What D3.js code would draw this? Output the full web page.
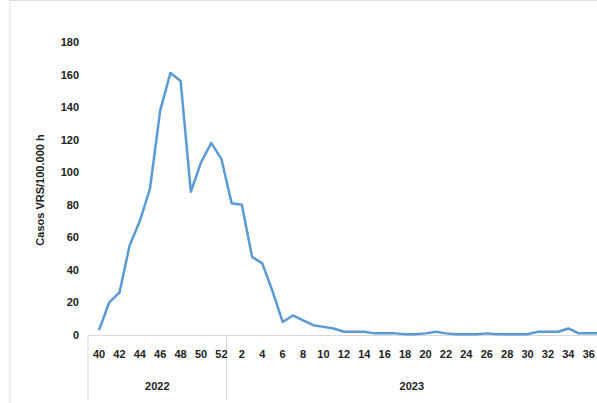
<!DOCTYPE html>
<html><head><meta charset="utf-8">
<script src="https://cdn.jsdelivr.net/npm/d3@7"></script>
<style>body{margin:0;background:#fff}text{font-family:"Liberation Sans",Arial,sans-serif;fill:#222}</style>
</head><body><svg id="c" width="597" height="403"></svg>
<script>
const weeks = [40,41,42,43,44,45,46,47,48,49,50,51,52,1,2,3,4,5,6,7,8,9,10,11,12,13,14,15,16,17,18,19,20,21,22,23,24,25,26,27,28,29,30,31,32,33,34,35,36,37];
const years = [2022,2022,2022,2022,2022,2022,2022,2022,2022,2022,2022,2022,2022,2023,2023,2023,2023,2023,2023,2023,2023,2023,2023,2023,2023,2023,2023,2023,2023,2023,2023,2023,2023,2023,2023,2023,2023,2023,2023,2023,2023,2023,2023,2023,2023,2023,2023,2023,2023,2023];
const cases = [3,20,26,55,70,90,138,161,156,88,106,118,108,81,80,48,44,27,8,12,9,6,5,4,2,2,2,1,1,1,0.5,0.5,1,2,1,0.5,0.5,0.5,1,0.5,0.5,0.5,0.5,2,2,2,4,1,1,1];
const yTicks = [0,20,40,60,80,100,120,140,160,180];

const svg = d3.select("#c");
svg.append("line").attr("x1",10).attr("x2",10).attr("y1",0).attr("y2",403).attr("stroke","#ddd");
svg.append("line").attr("x1",10).attr("x2",597).attr("y1",0.5).attr("y2",0.5).attr("stroke","#ddd");

const x = d3.scaleLinear().domain([0, weeks.length-1]).range([99, 599]);
const y = d3.scaleLinear().domain([0,180]).range([335,42]);

svg.append("g").selectAll("text").data(yTicks).join("text")
  .attr("x",79).attr("y",d=>y(d)+4).attr("text-anchor","end")
  .attr("font-size",11).attr("font-weight","bold").text(d=>d);

svg.append("text").attr("transform","translate(44,190) rotate(-90)")
  .attr("text-anchor","middle").attr("font-size",11).attr("font-weight","bold").text("Casos VRS/100.000 h");

svg.append("line").attr("x1",88).attr("x2",597).attr("y1",335.5).attr("y2",335.5).attr("stroke","#d9d9d9");
const split = (x(12)+x(13))/2;
[88, split].forEach(v=>svg.append("line").attr("x1",v).attr("x2",v).attr("y1",335).attr("y2",400).attr("stroke","#d9d9d9"));

svg.append("g").selectAll("text").data(weeks.map((w,i)=>[w,i]).filter(d=>d[0]%2===0)).join("text")
  .attr("x",d=>x(d[1])).attr("y",358).attr("text-anchor","middle")
  .attr("font-size",11).attr("font-weight","bold").text(d=>d[0]);

const yrs = [2022,2023];
svg.append("g").selectAll("text").data(yrs).join("text")
  .attr("x",d=>d===2022?(88+split)/2:(split+597)/2).attr("y",390).attr("text-anchor","middle")
  .attr("font-size",11).attr("font-weight","bold").text(d=>d);

svg.append("path").datum(cases)
  .attr("fill","none").attr("stroke","#5b9bd5").attr("stroke-width",2.5).attr("stroke-linejoin","round")
  .attr("d", d3.line().x((d,i)=>x(i)).y(d=>y(d)));
</script></body></html>
